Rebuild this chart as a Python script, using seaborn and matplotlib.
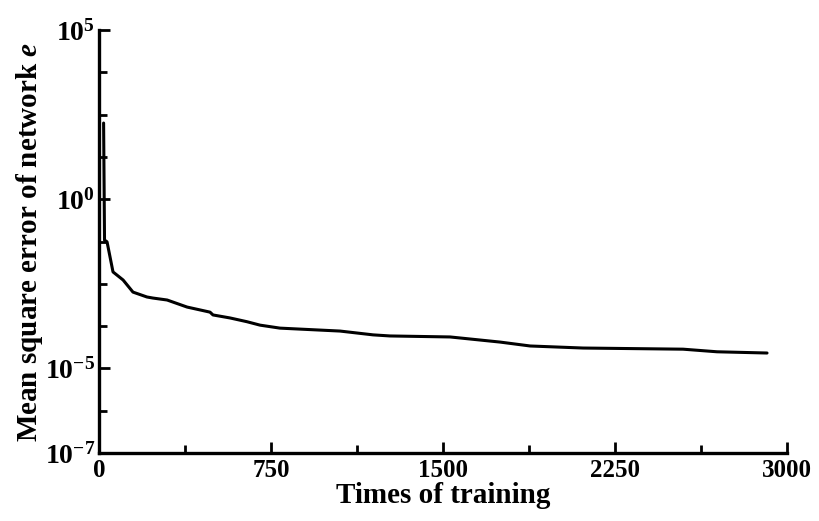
import numpy as np
import pandas as pd
import seaborn as sns
import matplotlib.pyplot as plt
from matplotlib.ticker import FixedLocator, NullFormatter

# values
iters = [20, 24, 35, 61, 105, 148, 209, 235, 297, 384, 484, 497, 571, 645, 702,
         789, 1051, 1195, 1269, 1531, 1749, 1880, 2111, 2547, 2695, 2913]
mse = [178, 0.062, 0.055, 7.1e-3, 4.1e-3, 1.8e-3, 1.29e-3, 1.2e-3, 1.05e-3, 6.5e-4,
       4.6e-4, 3.8e-4, 3.1e-4, 2.4e-4, 1.9e-4, 1.55e-4, 1.27e-4, 9.8e-5, 9.1e-5,
       8.5e-5, 6.0e-5, 4.6e-5, 4.0e-5, 3.7e-5, 3.1e-5, 2.85e-5]

y_major = [1e-7, 1e-5, 1e0, 1e5]
y_major_labels = [r'$10^{-7}$', r'$10^{-5}$', r'$10^{0}$', r'$10^{5}$']
y_minor = [1e-6, 10**-3.75, 10**-2.5, 10**-1.25, 10**1.25, 10**2.5, 10**3.75]
x_major = [0, 750, 1500, 2250, 3000]
x_minor = [375, 1125, 1875, 2625]

df = pd.DataFrame({'iter': iters, 'mse': mse})

sns.set_style('ticks')
plt.rcParams['font.family'] = ['Liberation Serif', 'DejaVu Serif']
plt.rcParams['font.weight'] = 'bold'
plt.rcParams['mathtext.fontset'] = 'custom'
plt.rcParams['mathtext.rm'] = 'Liberation Serif:bold'
plt.rcParams['mathtext.it'] = 'Liberation Serif:bold:italic'
plt.rcParams['mathtext.bf'] = 'Liberation Serif:bold'
for k in ['text.color', 'axes.labelcolor', 'axes.edgecolor', 'xtick.color', 'ytick.color']:
    plt.rcParams[k] = 'black'


# the original axis is log-like but with uneven decades above/below 1e-5
def fwd(y):
    L = np.log10(np.clip(y, 1e-12, None))
    return np.where(L < -5, L + 7, 2 + (L + 5) * 0.8)


def inv(u):
    u = np.asarray(u, dtype=float)
    return np.where(u < 2, 10 ** (u - 7), 10 ** ((u - 2) / 0.8 - 5))


fig = plt.figure(figsize=(8.19, 5.21), dpi=100)
ax = fig.add_axes([0.1209, 0.1305, 0.8400, 0.8119])

sns.lineplot(data=df, x='iter', y='mse', color='black', linewidth=2.2, ax=ax)

ax.set_yscale('function', functions=(fwd, inv))
ax.set_xlim(0, 3000)
ax.set_ylim(1e-7, 1e5)

ax.yaxis.set_major_locator(FixedLocator(y_major))
ax.set_yticklabels(y_major_labels)
ax.yaxis.set_minor_locator(FixedLocator(y_minor))
ax.yaxis.set_minor_formatter(NullFormatter())
ax.xaxis.set_major_locator(FixedLocator(x_major))
ax.xaxis.set_minor_locator(FixedLocator(x_minor))

ax.tick_params(axis='both', which='major', direction='in', length=8, width=2, pad=4)
ax.tick_params(axis='x', which='major', labelsize=18)
ax.tick_params(axis='y', which='major', labelsize=20, pad=3)
ax.tick_params(axis='both', which='minor', direction='in', length=6, width=2)
for lbl in ax.get_xticklabels():
    lbl.set_fontweight('bold')

sns.despine(ax=ax)
for s in ['left', 'bottom']:
    ax.spines[s].set_linewidth(2.4)

ax.set_xlabel('Times of training', fontsize=21, fontweight='bold', labelpad=0)
ax.set_ylabel(r'Mean square error of network $\mathit{e}$', fontsize=21,
              fontweight='bold', labelpad=0)

fig.savefig('out.png', dpi=100)
